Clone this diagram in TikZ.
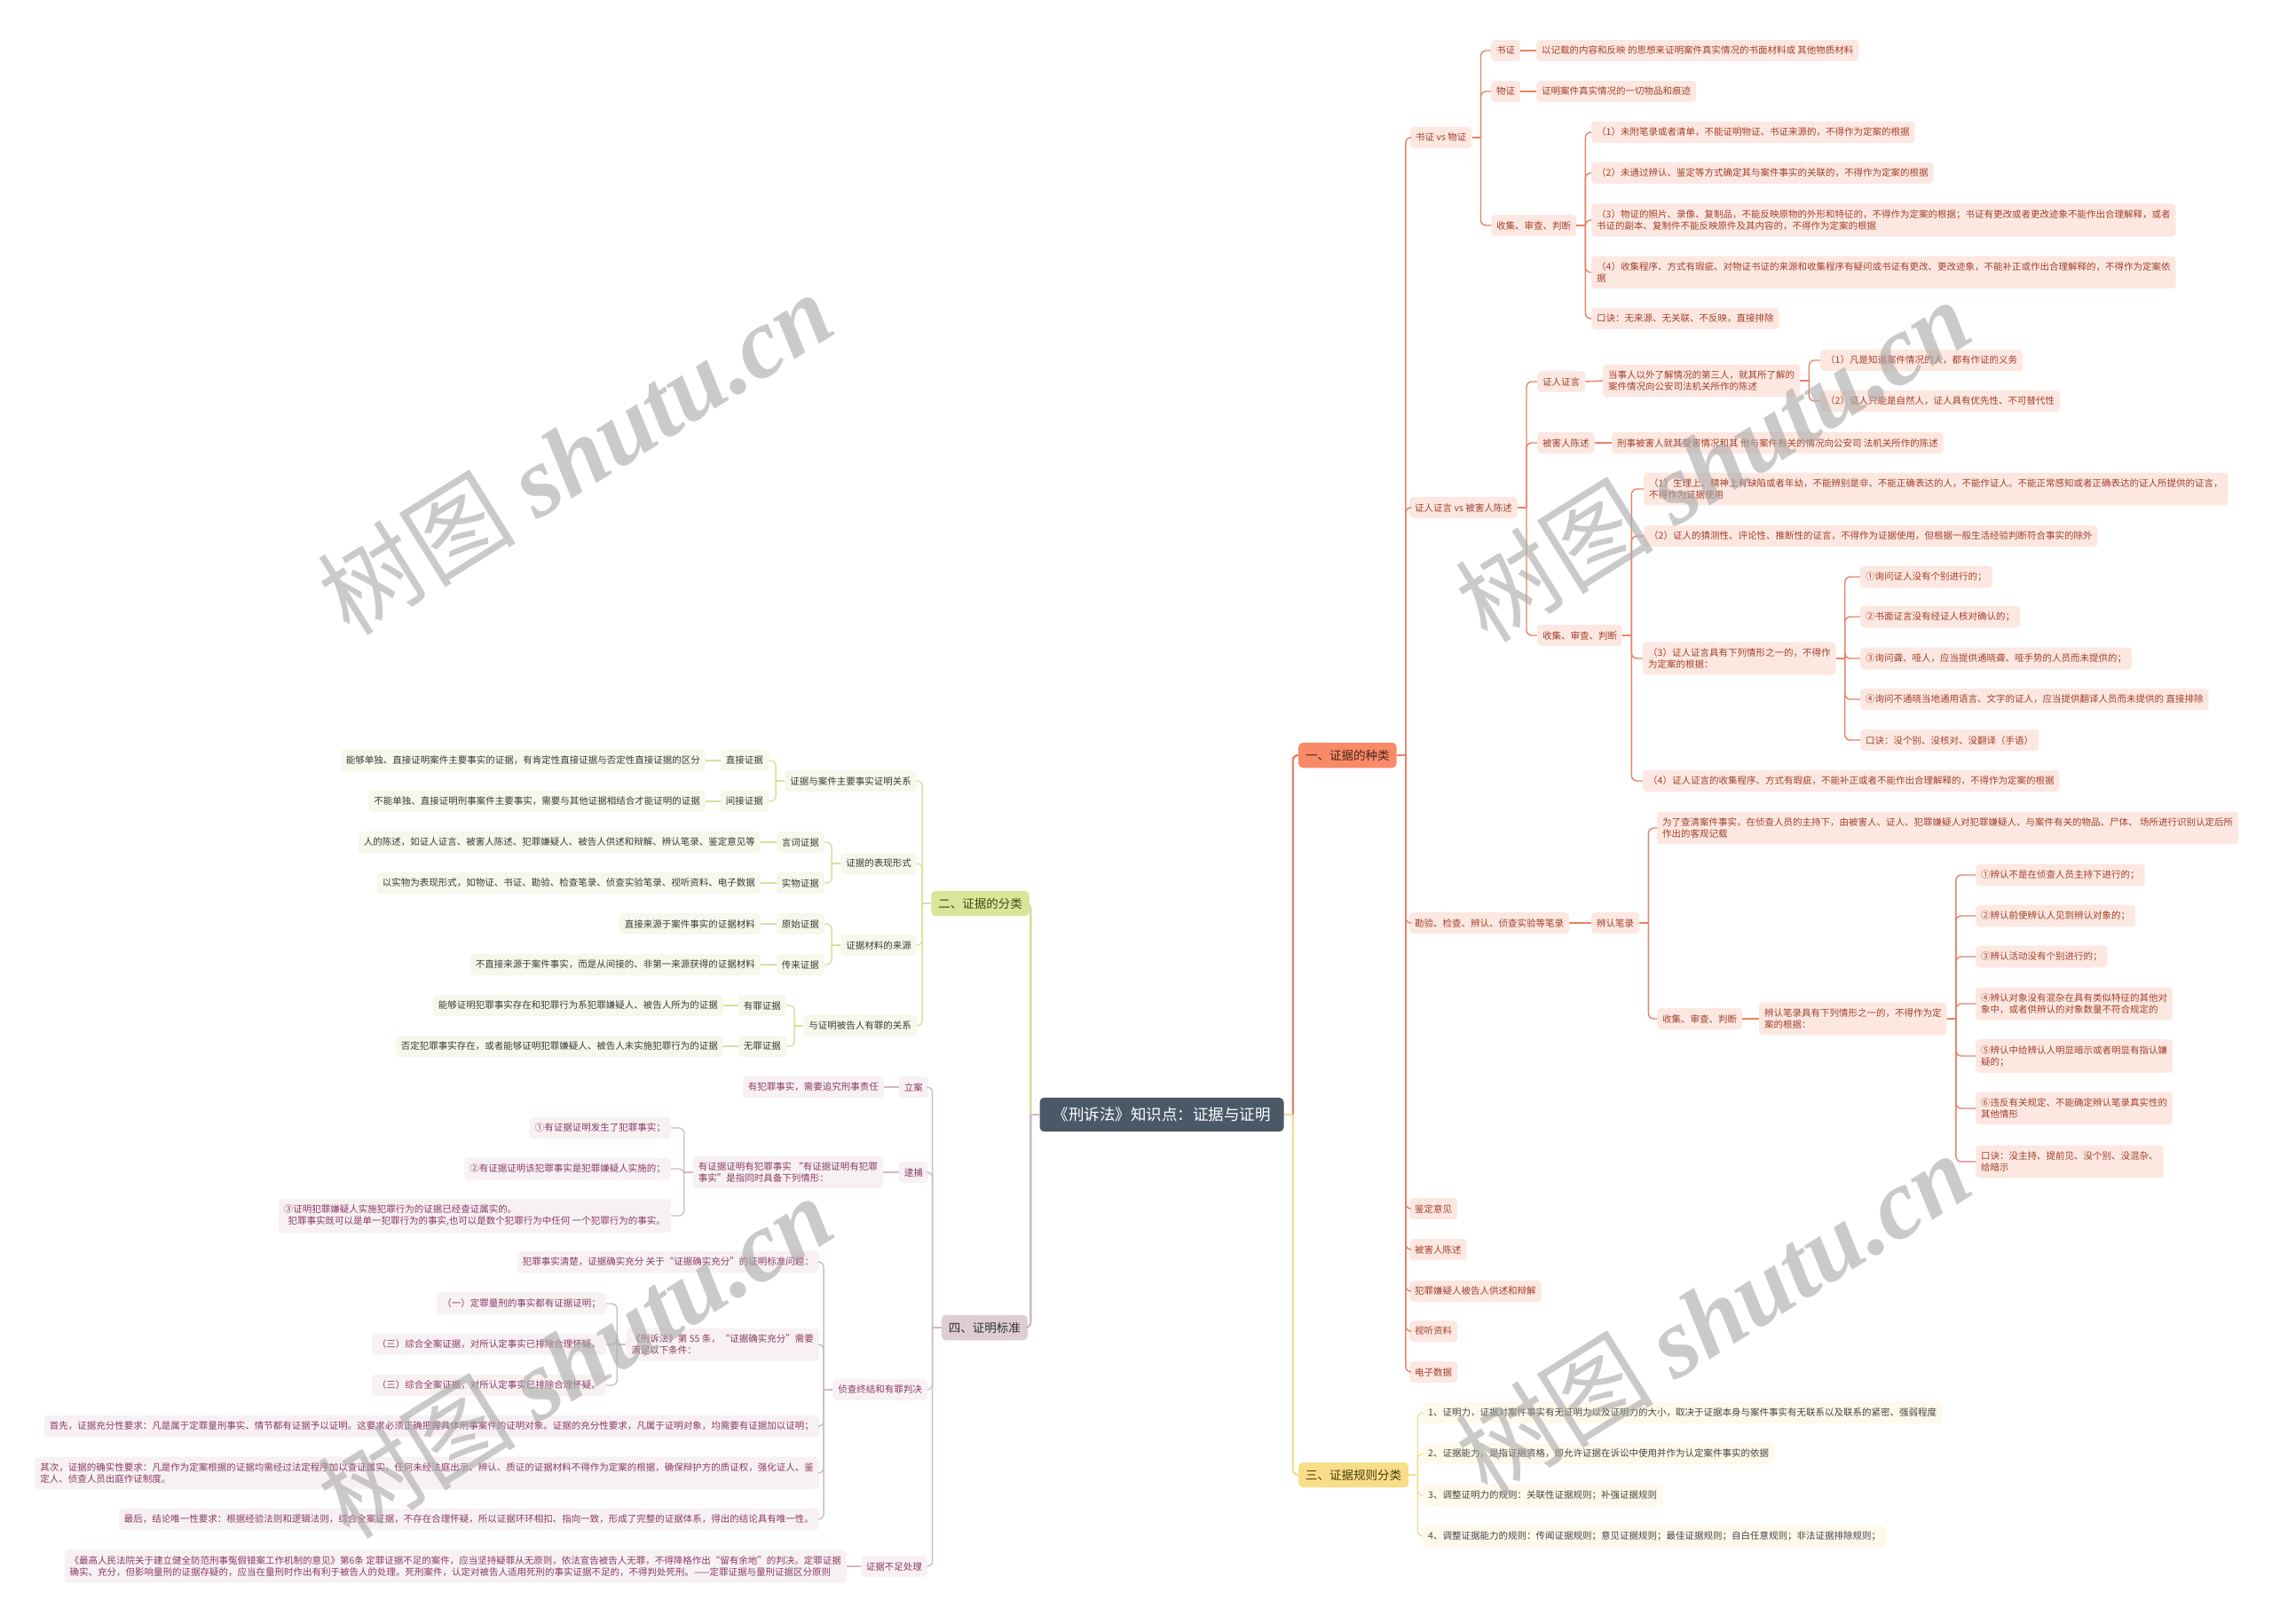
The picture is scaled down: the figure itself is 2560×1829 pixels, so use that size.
\documentclass[tikz,border=0pt]{standalone}
\usepackage{fontspec}
\setmainfont{Noto Sans CJK SC}
\newfontfamily\wmserif{Liberation Serif}
\usetikzlibrary{calc}
\definecolor{cen}{HTML}{4A5868}
\definecolor{m1f}{HTML}{F98A68}
\definecolor{m1t}{HTML}{4A2418}
\definecolor{f1}{HTML}{FDE8E1}
\definecolor{t1}{HTML}{A23F2B}
\definecolor{l1}{HTML}{E58469}
\definecolor{m2f}{HTML}{D9E69A}
\definecolor{m2t}{HTML}{3D4A12}
\definecolor{f2}{HTML}{F5F8EA}
\definecolor{t2}{HTML}{3A3A3A}
\definecolor{l2}{HTML}{D4E29A}
\definecolor{m3f}{HTML}{F9DE8A}
\definecolor{m3t}{HTML}{4A3B0A}
\definecolor{f3}{HTML}{FEF9EA}
\definecolor{t3}{HTML}{444444}
\definecolor{l3}{HTML}{F3DD96}
\definecolor{m4f}{HTML}{DFCDD6}
\definecolor{m4t}{HTML}{333333}
\definecolor{f4}{HTML}{F8F1F4}
\definecolor{t4}{HTML}{8A3A60}
\definecolor{l4}{HTML}{CDBBC4}
\definecolor{wmc}{HTML}{A8A8A8}
\newcommand\rk[3][]{\draw[#1] (#2.east) -- ++(10,0); \draw[rounded corners=6,#1] ($(#2.east)+(10,0)$) |- (#3.west);}
\newcommand\lk[3][]{\draw[#1] (#2.west) -- ++(-10,0); \draw[rounded corners=6,#1] ($(#2.west)+(-10,0)$) |- (#3.east);}
\newcommand\sk[3][]{\draw[#1] (#2.east) -- (#3.west);}
\newcommand\slk[3][]{\draw[#1] (#2.west) -- (#3.east);}
\tikzset{
  bx/.style={rounded corners=4, inner xsep=6, inner ysep=7, align=left, font=\fontsize{10.5}{13}\selectfont},
  mainbx/.style={rounded corners=5, inner xsep=8, inner ysep=8, font=\fontsize{13.5}{16}\selectfont},
  cnode/.style={rounded corners=5, inner xsep=15, inner ysep=11, fill=cen, text=white, font=\fontsize{17.5}{20}\selectfont},
  r1/.style={bx, fill=f1, text=t1, anchor=west},
  r3/.style={bx, fill=f3, text=t3, anchor=west},
  q2/.style={bx, fill=f2, text=t2, anchor=east},
  q4/.style={bx, fill=f4, text=t4, anchor=east},
  L1/.style={draw=l1, line width=1.4},
  L2/.style={draw=l2, line width=1.4},
  L3/.style={draw=l3, line width=1.4},
  L4/.style={draw=l4, line width=1.4},
  M1/.style={draw=l1, line width=2.4},
  M2/.style={draw=l2, line width=2.4},
  M3/.style={draw=l3, line width=2.4},
  M4/.style={draw=l4, line width=2.4},
  wm/.style={text=wmc, opacity=0.6, font=\fontsize{112}{120}\selectfont, rotate=32},
}
\begin{document}
\begin{tikzpicture}[x=1pt,y=-1pt]
\useasboundingbox[fill=white] (0,0) rectangle (2560,1829);

% ---------- center ----------
\node[cnode] (c) at (1309,1256) {《刑诉法》知识点：证据与证明};

% ---------- main branches ----------
\node[mainbx, fill=m1f, text=m1t, anchor=west] (b1) at (1463,851) {一、证据的种类};
\node[mainbx, fill=m2f, text=m2t, anchor=east] (b2) at (1160,1018) {二、证据的分类};
\node[mainbx, fill=m3f, text=m3t, anchor=west] (b3) at (1463,1662) {三、证据规则分类};
\node[mainbx, fill=m4f, text=m4t, anchor=east] (b4) at (1158,1496) {四、证明标准};

\rk[M1]{c}{b1}
\rk[M3]{c}{b3}
\lk[M2]{c}{b2}
\lk[M4]{c}{b4}

% ---------- branch 1 ----------
\node[r1] (a1) at (1589,155) {书证 vs 物证};
\node[r1] (a1a) at (1680,57) {书证};
\node[r1] (a1at) at (1731,57) {以记载的内容和反映 的思想来证明案件真实情况的书面材料或 其他物质材料};
\node[r1] (a1b) at (1680,103) {物证};
\node[r1] (a1bt) at (1731,103) {证明案件真实情况的一切物品和痕迹};
\node[r1] (a1c) at (1680,254) {收集、审查、判断};
\node[r1] (a1c1) at (1793,149) {（1）未附笔录或者清单，不能证明物证、书证来源的，不得作为定案的根据};
\node[r1] (a1c2) at (1793,195) {（2）未通过辨认、鉴定等方式确定其与案件事实的关联的，不得作为定案的根据};
\node[r1] (a1c3) at (1793,248) {（3）物证的照片、录像、复制品，不能反映原物的外形和特征的，不得作为定案的根据；书证有更改或者更改迹象不能作出合理解释，或者\\书证的副本、复制件不能反映原件及其内容的，不得作为定案的根据};
\node[r1] (a1c4) at (1793,307) {（4）收集程序、方式有瑕疵、对物证书证的来源和收集程序有疑问或书证有更改、更改迹象，不能补正或作出合理解释的，不得作为定案依\\据};
\node[r1] (a1c5) at (1793,359) {口诀：无来源、无关联、不反映，直接排除};

\node[r1] (a2) at (1588,572) {证人证言 vs 被害人陈述};
\node[r1] (a2a) at (1732,430) {证人证言};
\node[r1] (a2at) at (1806,429) {当事人以外了解情况的第三人，就其所了解的\\案件情况向公安司法机关所作的陈述};
\node[r1] (a2at1) at (2051,406) {（1）凡是知道案件情况的人，都有作证的义务};
\node[r1] (a2at2) at (2051,452) {（2）证人只能是自然人，证人具有优先性、不可替代性};
\node[r1] (a2b) at (1732,499) {被害人陈述};
\node[r1] (a2bt) at (1816,499) {刑事被害人就其受害情况和其 他与案件有关的情况向公安司 法机关所作的陈述};
\node[r1] (a2c) at (1732,716) {收集、审查、判断};
\node[r1] (a2c1) at (1852,551) {（1）生理上、精神上有缺陷或者年幼，不能辨别是非、不能正确表达的人，不能作证人。不能正常感知或者正确表达的证人所提供的证言，\\不得作为证据使用};
\node[r1] (a2c2) at (1852,604) {（2）证人的猜测性、评论性、推断性的证言，不得作为证据使用，但根据一般生活经验判断符合事实的除外};
\node[r1] (a2c3) at (1851,742) {（3）证人证言具有下列情形之一的，不得作\\为定案的根据：};
\node[r1] (a2c4) at (1851,880) {（4）证人证言的收集程序、方式有瑕疵，不能补正或者不能作出合理解释的，不得作为定案的根据};
\node[r1] (a2c31) at (2096,650) {①询问证人没有个别进行的；};
\node[r1] (a2c32) at (2096,695) {②书面证言没有经证人核对确认的；};
\node[r1] (a2c33) at (2096,742) {③询问聋、哑人，应当提供通晓聋、哑手势的人员而未提供的；};
\node[r1] (a2c34) at (2096,788) {④询问不通晓当地通用语言、文字的证人，应当提供翻译人员而未提供的 直接排除};
\node[r1] (a2c35) at (2096,834) {口诀：没个别、没核对、没翻译（手语）};

\node[r1] (a3) at (1588,1040) {勘验、检查、辨认、侦查实验等笔录};
\node[r1] (a3a) at (1793,1040) {辨认笔录};
\node[r1] (a3a1) at (1867,933) {为了查清案件事实，在侦查人员的主持下，由被害人、证人、犯罪嫌疑人对犯罪嫌疑人、与案件有关的物品、尸体、 场所进行识别认定后所\\作出的客观记载};
\node[r1] (a3a2) at (1867,1148) {收集、审查、判断};
\node[r1] (a3a2t) at (1982,1148) {辨认笔录具有下列情形之一的，不得作为定\\案的根据：};
\node[r1] (p1) at (2226,986) {①辨认不是在侦查人员主持下进行的；};
\node[r1] (p2) at (2226,1032) {②辨认前使辨认人见到辨认对象的；};
\node[r1] (p3) at (2226,1078) {③辨认活动没有个别进行的；};
\node[r1] (p4) at (2226,1131) {④辨认对象没有混杂在具有类似特征的其他对\\象中，或者供辨认的对象数量不符合规定的};
\node[r1] (p5) at (2226,1190) {⑤辨认中给辨认人明显暗示或者明显有指认嫌\\疑的；};
\node[r1] (p6) at (2226,1249) {⑥违反有关规定、不能确定辨认笔录真实性的\\其他情形};
\node[r1] (p7) at (2226,1309) {口诀：没主持、提前见、没个别、没混杂、\\给暗示};

\node[r1] (a4) at (1588,1362) {鉴定意见};
\node[r1] (a5) at (1588,1408) {被害人陈述};
\node[r1] (a6) at (1588,1455) {犯罪嫌疑人被告人供述和辩解};
\node[r1] (a7) at (1588,1500) {视听资料};
\node[r1] (a8) at (1588,1546) {电子数据};

\foreach \n in {a1,a2,a3,a4,a5,a6,a7,a8} {\rk[L1]{b1}{\n}}
\rk[L1]{a1}{a1a} \rk[L1]{a1}{a1b} \rk[L1]{a1}{a1c}
\sk[L1]{a1a}{a1at} \sk[L1]{a1b}{a1bt}
\foreach \n in {a1c1,a1c2,a1c3,a1c4,a1c5} {\rk[L1]{a1c}{\n}}
\rk[L1]{a2}{a2a} \rk[L1]{a2}{a2b} \rk[L1]{a2}{a2c}
\sk[L1]{a2a}{a2at} \sk[L1]{a2b}{a2bt}
\rk[L1]{a2at}{a2at1} \rk[L1]{a2at}{a2at2}
\foreach \n in {a2c1,a2c2,a2c3,a2c4} {\rk[L1]{a2c}{\n}}
\foreach \n in {a2c31,a2c32,a2c33,a2c34,a2c35} {\rk[L1]{a2c3}{\n}}
\sk[L1]{a3}{a3a}
\rk[L1]{a3a}{a3a1} \rk[L1]{a3a}{a3a2}
\sk[L1]{a3a2}{a3a2t}
\foreach \n in {p1,p2,p3,p4,p5,p6,p7} {\rk[L1]{a3a2t}{\n}}

% ---------- branch 3 ----------
\node[r3] (e1) at (1603,1592) {1、证明力，证据对案件事实有无证明力以及证明力的大小，取决于证据本身与案件事实有无联系以及联系的紧密、强弱程度};
\node[r3] (e2) at (1603,1638) {2、证据能力，是指证据资格，即允许证据在诉讼中使用并作为认定案件事实的依据};
\node[r3] (e3) at (1603,1685) {3、调整证明力的规则：关联性证据规则；补强证据规则};
\node[r3] (e4) at (1603,1731) {4、调整证据能力的规则：传闻证据规则；意见证据规则；最佳证据规则；自白任意规则；非法证据排除规则；};
\foreach \n in {e1,e2,e3,e4} {\rk[L3]{b3}{\n}}

% ---------- branch 2 ----------
\node[q2] (g1) at (1033,880) {证据与案件主要事实证明关系};
\node[q2] (g1a) at (866,857) {直接证据};
\node[q2] (g1at) at (795,857) {能够单独、直接证明案件主要事实的证据，有肯定性直接证据与否定性直接证据的区分};
\node[q2] (g1b) at (866,903) {间接证据};
\node[q2] (g1bt) at (795,903) {不能单独、直接证明刑事案件主要事实，需要与其他证据相结合才能证明的证据};
\node[q2] (g2) at (1033,973) {证据的表现形式};
\node[q2] (g2a) at (929,949) {言词证据};
\node[q2] (g2at) at (857,949) {人的陈述，如证人证言、被害人陈述、犯罪嫌疑人、被告人供述和辩解、辨认笔录、鉴定意见等};
\node[q2] (g2b) at (929,995) {实物证据};
\node[q2] (g2bt) at (857,995) {以实物为表现形式，如物证、书证、勘验、检查笔录、侦查实验笔录、视听资料、电子数据};
\node[q2] (g3) at (1033,1065) {证据材料的来源};
\node[q2] (g3a) at (929,1041) {原始证据};
\node[q2] (g3at) at (857,1041) {直接来源于案件事实的证据材料};
\node[q2] (g3b) at (929,1087) {传来证据};
\node[q2] (g3bt) at (857,1087) {不直接来源于案件事实，而是从间接的、非第一来源获得的证据材料};
\node[q2] (g4) at (1033,1156) {与证明被告人有罪的关系};
\node[q2] (g4a) at (886,1133) {有罪证据};
\node[q2] (g4at) at (815,1133) {能够证明犯罪事实存在和犯罪行为系犯罪嫌疑人、被告人所为的证据};
\node[q2] (g4b) at (886,1179) {无罪证据};
\node[q2] (g4bt) at (815,1179) {否定犯罪事实存在，或者能够证明犯罪嫌疑人、被告人未实施犯罪行为的证据};
\foreach \n in {g1,g2,g3,g4} {\lk[L2]{b2}{\n}}
\lk[L2]{g1}{g1a} \lk[L2]{g1}{g1b}
\lk[L2]{g2}{g2a} \lk[L2]{g2}{g2b}
\lk[L2]{g3}{g3a} \lk[L2]{g3}{g3b}
\lk[L2]{g4}{g4a} \lk[L2]{g4}{g4b}
\foreach \n in {g1a,g1b,g2a,g2b,g3a,g3b,g4a,g4b} {\slk[L2]{\n}{\n t}}

% ---------- branch 4 ----------
\node[q4] (h1) at (1046,1225) {立案};
\node[q4] (h1t) at (996,1225) {有犯罪事实，需要追究刑事责任};
\node[q4] (h2) at (1046,1321) {逮捕};
\node[q4] (h2t) at (995,1321) {有证据证明有犯罪事实 “有证据证明有犯罪\\事实”是指同时具备下列情形：};
\node[q4] (h21) at (756,1271) {①有证据证明发生了犯罪事实；};
\node[q4] (h22) at (756,1317) {②有证据证明该犯罪事实是犯罪嫌疑人实施的；};
\node[q4] (h23) at (756,1370) {③证明犯罪嫌疑人实施犯罪行为的证据已经查证属实的。\\\ \ 犯罪事实既可以是单一犯罪行为的事实,也可以是数个犯罪行为中任何 一个犯罪行为的事实。};
\node[q4] (h3) at (1045,1566) {侦查终结和有罪判决};
\node[q4] (h31) at (923,1422) {犯罪事实清楚，证据确实充分 关于“证据确实充分”的证明标准问题：};
\node[q4] (h32) at (923,1515) {《刑诉法》第 55 条，“证据确实充分”需要\\满足以下条件：};
\node[q4] (h321) at (683,1469) {（一）定罪量刑的事实都有证据证明；};
\node[q4] (h322) at (683,1515) {（三）综合全案证据，对所认定事实已排除合理怀疑。};
\node[q4] (h323) at (683,1561) {（三）综合全案证据，对所认定事实已排除合理怀疑。};
\node[q4] (h33) at (923,1607) {首先，证据充分性要求：凡是属于定罪量刑事实、情节都有证据予以证明。这要求必须正确把握具体刑事案件的证明对象。证据的充分性要求，凡属于证明对象，均需要有证据加以证明；};
\node[q4] (h34) at (923,1660) {其次，证据的确实性要求：凡是作为定案根据的证据均需经过法定程序加以查证属实，任何未经法庭出示、辨认、质证的证据材料不得作为定案的根据，确保辩护方的质证权，强化证人、鉴\\定人、侦查人员出庭作证制度。};
\node[q4] (h35) at (923,1712) {最后，结论唯一性要求：根据经验法则和逻辑法则，综合全案证据，不存在合理怀疑，所以证据环环相扣、指向一致，形成了完整的证据体系，得出的结论具有唯一性。};
\node[q4] (h4) at (1045,1765) {证据不足处理};
\node[q4] (h4t) at (954,1765) {《最高人民法院关于建立健全防范刑事冤假错案工作机制的意见》第6条 定罪证据不足的案件，应当坚持疑罪从无原则，依法宣告被告人无罪，不得降格作出“留有余地”的判决。定罪证据\\确实、充分，但影响量刑的证据存疑的，应当在量刑时作出有利于被告人的处理。死刑案件，认定对被告人适用死刑的事实证据不足的，不得判处死刑。——定罪证据与量刑证据区分原则};
\foreach \n in {h1,h2,h3,h4} {\lk[L4]{b4}{\n}}
\slk[L4]{h1}{h1t} \slk[L4]{h2}{h2t} \slk[L4]{h4}{h4t}
\foreach \n in {h21,h22,h23} {\lk[L4]{h2t}{\n}}
\foreach \n in {h31,h32,h33,h34,h35} {\lk[L4]{h3}{\n}}
\foreach \n in {h321,h322,h323} {\lk[L4]{h32}{\n}}

% ---------- watermarks ----------
\node[wm] (w1) at (648,510) {树图 {\wmserif\bfseries\itshape shutu.cn}};
\node[wm] (w2) at (1930,518) {树图 {\wmserif\bfseries\itshape shutu.cn}};
\node[wm] (w3) at (648,1528) {树图 {\wmserif\bfseries\itshape shutu.cn}};
\node[wm] (w4) at (1930,1480) {树图 {\wmserif\bfseries\itshape shutu.cn}};
\end{tikzpicture}
\end{document}
